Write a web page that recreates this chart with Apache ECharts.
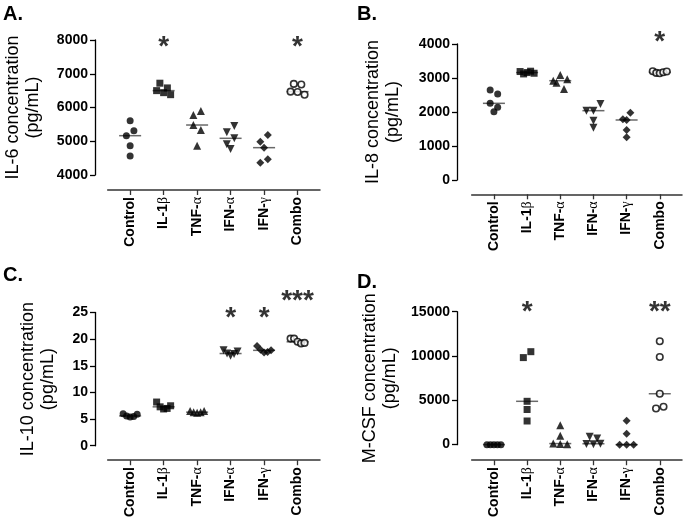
<!DOCTYPE html>
<html><head><meta charset="utf-8">
<script src="https://cdn.jsdelivr.net/npm/echarts@6/dist/echarts.min.js"></script>
<style>html,body{margin:0;padding:0;background:#fff}#c{width:685px;height:520px}</style>
</head><body><div id="c"></div>
<script>
const categories = ['Control', 'IL-1β', 'TNF-α', 'IFN-α', 'IFN-γ', 'Combo'];

// values per category (5 donors each)
const il6Values = [
  [5609, 5165, 5313, 4868, 4563],
  [6720, 6580, 6500, 6440, 6380],
  [5778, 5896, 5481, 5333, 4869],
  [5265, 5452, 4910, 5087, 4770],
  [4988, 5185, 4810, 4366, 4466],
  [6700, 6680, 6470, 6460, 6380]
];
const il8Values = [
  [2647, 2529, 2255, 2137, 2009],
  [3190, 3120, 3160, 3200, 3140],
  [2921, 3088, 2961, 2863, 2676],
  [2039, 2039, 2235, 1745, 1539],
  [1784, 1765, 1980, 1471, 1255],
  [3200, 3150, 3140, 3170, 3190]
];
const il10Values = [
  [6.0, 5.6, 5.4, 5.5, 5.9],
  [8.2, 7.3, 6.9, 7.0, 7.5],
  [6.5, 6.3, 6.2, 6.3, 6.5],
  [17.9, 17.3, 16.9, 17.2, 17.7],
  [18.7, 18.0, 17.5, 17.6, 17.9],
  [20.1, 20.1, 19.5, 19.2, 19.3]
];
const mcsfValues = [
  [0, 0, 0, 0, 0],
  [9822, 10489, 4889, 3967, 2667],
  [2200, 1000, 120, 60, 40],
  [900, 700, 80, 30, 100],
  [2700, 1220, 0, 0, 0],
  [11667, 9889, 5744, 4078, 4267]
];

// significance marks and the value level they sit at
const il6Stars = ['', '*', '', '', '', '*'];
const il6StarLevels = [null, 7950, null, null, null, 7950];
const il8Stars = ['', '', '', '', '', '*'];
const il8StarLevels = [null, null, null, null, null, 4215];
const il10Stars = ['', '', '', '*', '*', '***'];
const il10StarLevels = [null, null, null, 25, 25, 28.2];
const mcsfStars = ['', '*', '', '', '', '**'];
const mcsfStarLevels = [null, 15556, null, null, null, 15556];

// y axis scales [min, max, interval]
const il6Scale = [4000, 8000, 1000];
const il8Scale = [0, 4000, 1000];
const il10Scale = [0, 25, 5];
const mcsfScale = [0, 15000, 5000];

const FONT = 'Liberation Sans, Arial, sans-serif';
const symbols = ['circle', 'rect', 'triangle', 'triangle', 'diamond', 'circle'];
const symbolRot = [0, 0, 0, 180, 0, 0];
const symbolSizes = [7, 7, 8, 8, 8, 6.5];

const panels = [
  {letter: 'A.', lx: 3, ly: 4, values: il6Values, stars: il6Stars, levels: il6StarLevels, scale: il6Scale,
   yName: 'IL-6 concentration', left: 107.7, top: 40, width: 212.3, height: 135, yOff: 12.7, xOff: 15, nameGap: 51.7},
  {letter: 'B.', lx: 357, ly: 4, values: il8Values, stars: il8Stars, levels: il8StarLevels, scale: il8Scale,
   yName: 'IL-8 concentration', left: 471.7, top: 44, width: 210.3, height: 136, yOff: 14.7, xOff: 14.3, nameGap: 53.7},
  {letter: 'C.', lx: 3, ly: 265.5, values: il10Values, stars: il10Stars, levels: il10StarLevels, scale: il10Scale,
   yName: 'IL-10 concentration', left: 107.7, top: 312.5, width: 212.3, height: 135.3, yOff: 12.7, xOff: 14.5, nameGap: 36.7},
  {letter: 'D.', lx: 357, ly: 272, values: mcsfValues, stars: mcsfStars, levels: mcsfStarLevels, scale: mcsfScale,
   yName: 'M-CSF concentration', left: 471.7, top: 311.7, width: 210.3, height: 135, yOff: 14.7, xOff: 15.6, nameGap: 57}
];

function median(a) {
  const s = a.slice().sort((x, y) => x - y);
  return s[Math.floor(s.length / 2)];
}

const catIdx = categories.map((_, i) => i);

function labelFormatter(v) {
  const s = categories[Math.round(v)];
  if (s === undefined) return '';
  const m = s.match(/^(.*?)([αβγ])$/);
  if (m) return '{b|' + m[1] + '}{g|' + m[2] + '}';
  return '{b|' + s + '}';
}

function buildOption(offsets) {
  const option = {
    animation: false,
    backgroundColor: '#fff',
    title: [], grid: [], xAxis: [], yAxis: [], series: []
  };
  panels.forEach((p, pi) => {
    option.title.push({text: p.letter, left: p.lx, top: p.ly, padding: 0,
      textStyle: {fontSize: 20, fontWeight: 'bold', color: '#000', fontFamily: FONT}});
    option.grid.push({left: p.left, top: p.top, width: p.width, height: p.height, containLabel: false});
    option.xAxis.push({
      gridIndex: pi, type: 'value', min: -0.67, max: 5.67, position: 'bottom', offset: p.xOff,
      splitLine: {show: false},
      axisLine: {show: true, onZero: false, lineStyle: {color: '#333', width: 1.5}},
      axisTick: {show: true, customValues: catIdx, length: 5, lineStyle: {color: '#333', width: 1.3}},
      axisLabel: {customValues: catIdx, rotate: 90, margin: 7, formatter: labelFormatter, color: '#000',
        rich: {
          b: {fontSize: 14, fontWeight: 'bold', fontFamily: FONT, color: '#000'},
          g: {fontSize: 14, fontWeight: 'normal', fontFamily: 'Liberation Serif, serif', color: '#000'}
        }}
    });
    option.yAxis.push({
      gridIndex: pi, type: 'value', min: p.scale[0], max: p.scale[1], interval: p.scale[2],
      position: 'left', offset: p.yOff,
      name: p.yName + '\n(pg/mL)', nameLocation: 'middle', nameGap: p.nameGap,
      nameTextStyle: {fontSize: 18, lineHeight: 20, color: '#000', fontFamily: FONT, align: 'center'},
      splitLine: {show: false},
      axisLine: {show: true, onZero: false, lineStyle: {color: '#000', width: 1.3}},
      axisTick: {show: true, length: 5, lineStyle: {color: '#000', width: 1.3}},
      axisLabel: {fontSize: 14, fontWeight: 'bold', color: '#000', fontFamily: FONT, margin: 7,
        formatter: v => String(v)}
    });
    // median lines
    option.series.push({
      type: 'scatter', xAxisIndex: pi, yAxisIndex: pi, z: 1,
      symbol: 'rect', symbolSize: [22, 1.5], itemStyle: {color: '#444'},
      data: p.values.map((g, ci) => [ci, median(g)]), silent: true
    });
    // points
    p.values.forEach((g, ci) => {
      const open = ci === 5;
      option.series.push({
        type: 'scatter', xAxisIndex: pi, yAxisIndex: pi, z: 3,
        symbol: symbols[ci], symbolRotate: symbolRot[ci], symbolSize: symbolSizes[ci],
        itemStyle: open ? {color: '#fff', borderColor: '#000', borderWidth: 1.6} : {color: '#000'},
        data: g.map((v, k) => ({value: [ci, v], symbolOffset: [offsets ? offsets[pi][ci][k] : 0, 0]}))
      });
    });
    // asterisks
    option.series.push({
      type: 'scatter', xAxisIndex: pi, yAxisIndex: pi, z: 4, symbolSize: 0, clip: false,
      itemStyle: {color: 'transparent'},
      label: {show: true, position: 'inside', formatter: d => d.data.star, fontSize: 28, fontWeight: 'bold',
        fontFamily: FONT, color: '#000', offset: [0, 6]},
      data: p.stars.map((s, ci) => s ? {value: [ci, p.levels[ci]], star: s} : null).filter(Boolean)
    });
  });
  return option;
}

const chart = echarts.init(document.getElementById('c'), null, {renderer: 'canvas'});
chart.setOption(buildOption(null));

// simple column-scatter layout: points that sit close vertically share a row
const BIN = 7;
const offsets = panels.map((p, pi) => p.values.map(g => {
  const py = g.map(v => chart.convertToPixel({yAxisIndex: pi}, v));
  const order = g.map((_, k) => k).sort((a, b) => py[a] - py[b]);
  const res = new Array(g.length).fill(0);
  let i = 0;
  while (i < order.length) {
    const start = py[order[i]];
    const grp = [order[i]];
    let j = i + 1;
    while (j < order.length && py[order[j]] - start < BIN) { grp.push(order[j]); j++; }
    grp.sort((a, b) => a - b);
    const n = grp.length;
    const sp = n > 1 ? Math.min(7.5, 14 / (n - 1)) : 0;
    grp.forEach((k, m) => { res[k] = (m - (n - 1) / 2) * sp; });
    i = j;
  }
  return res;
}));
chart.setOption(buildOption(offsets), true);
</script>
</body></html>
